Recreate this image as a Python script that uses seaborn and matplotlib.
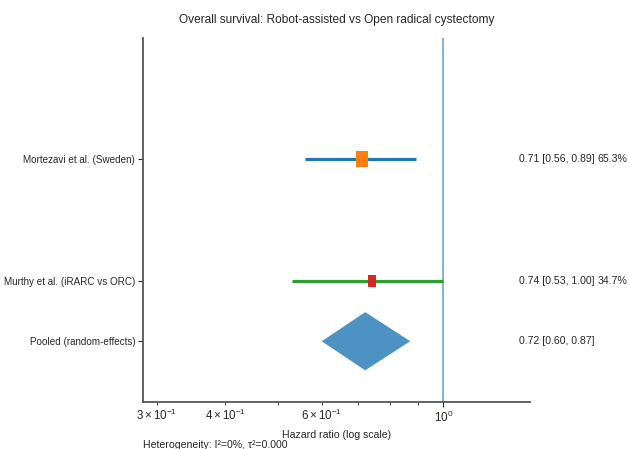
import numpy as np
import pandas as pd
import seaborn as sns
import matplotlib.pyplot as plt
from matplotlib.path import Path

# study data
studies = ['Mortezavi et al. (Sweden)', 'Murthy et al. (iRARC vs ORC)']
hr = [0.71, 0.74]
lo = [0.56, 0.53]
hi = [0.89, 1.00]
weights = [65.3, 34.7]
line_colors = ['tab:blue', 'tab:green']
point_colors = ['tab:orange', 'tab:red']

pooled_label = 'Pooled (random-effects)'
pooled_hr = 0.72
pooled_lo = 0.60
pooled_hi = 0.87

het_text = 'Heterogeneity: I\u00b2=0%, \u03c4\u00b2=0.000'

sns.set_style('ticks')
plt.rcParams['font.family'] = ['Liberation Sans', 'DejaVu Sans']
plt.rcParams['mathtext.fontset'] = 'custom'
plt.rcParams['mathtext.rm'] = 'Liberation Sans'
plt.rcParams['mathtext.it'] = 'Liberation Sans:italic'
plt.rcParams['mathtext.bf'] = 'Liberation Sans:bold'

fig = plt.figure(figsize=(6.29, 4.49), dpi=100)
ax = fig.add_axes([0.227, 0.105, 0.616, 0.81])

ypos = [1, 0]
pooled_y = -0.5

# narrow rectangle marker (squares look squeezed in the reference)
rect = Path([(-0.65, -1), (0.65, -1), (0.65, 1), (-0.65, 1), (-0.65, -1)],
            [Path.MOVETO, Path.LINETO, Path.LINETO, Path.LINETO, Path.CLOSEPOLY])

df = pd.DataFrame({'study': studies, 'hr': hr, 'lo': lo, 'hi': hi,
                   'w': weights, 'y': ypos})

fs = 7.6
for i, row in df.iterrows():
    ax.hlines(row['y'], row['lo'], row['hi'], color=line_colors[i], lw=2.3, zorder=2)
    ms = 12.2 * np.sqrt(row['w'] / max(weights))
    ax.plot(row['hr'], row['y'], marker=rect, ms=ms, color=point_colors[i],
            mew=0, linestyle='none', zorder=3)
    ax.text(0.972, row['y'], f"{row['hr']:.2f} [{row['lo']:.2f}, {row['hi']:.2f}]",
            transform=ax.get_yaxis_transform(), va='center', ha='left', fontsize=fs)
    ax.text(1.173, row['y'], f"{row['w']:.1f}%",
            transform=ax.get_yaxis_transform(), va='center', ha='left', fontsize=fs)

# pooled diamond
dx = [pooled_lo, pooled_hr, pooled_hi, pooled_hr]
dy = [pooled_y, pooled_y + 0.24, pooled_y, pooled_y - 0.24]
ax.fill(dx, dy, color='tab:blue', alpha=0.8, lw=0, zorder=2)
ax.text(0.972, pooled_y, f"{pooled_hr:.2f} [{pooled_lo:.2f}, {pooled_hi:.2f}]",
        transform=ax.get_yaxis_transform(), va='center', ha='left', fontsize=fs)

ax.axvline(1.0, color='tab:blue', alpha=0.6, lw=1.3, zorder=1)

ax.set_xscale('log')
ax.set_xlim(0.283, 1.44)
ax.set_ylim(-1, 2)
ax.set_yticks(ypos + [pooled_y])
ax.set_yticklabels(studies + [pooled_label], fontsize=7.1)
ax.tick_params(axis='y', pad=2)
ax.tick_params(axis='x', which='both', labelsize=8.4, pad=2)
ax.set_xlabel('Hazard ratio (log scale)', fontsize=fs, labelpad=4)
ax.set_title('Overall survival: Robot-assisted vs Open radical cystectomy', fontsize=8.6, pad=11)

sns.despine(ax=ax)
for s in ['left', 'bottom']:
    ax.spines[s].set_color('#555555')
    ax.spines[s].set_linewidth(1.3)

ax.text(0.0, -0.105, het_text, transform=ax.transAxes, va='top', ha='left', fontsize=fs)

fig.savefig('out.png', dpi=100)
